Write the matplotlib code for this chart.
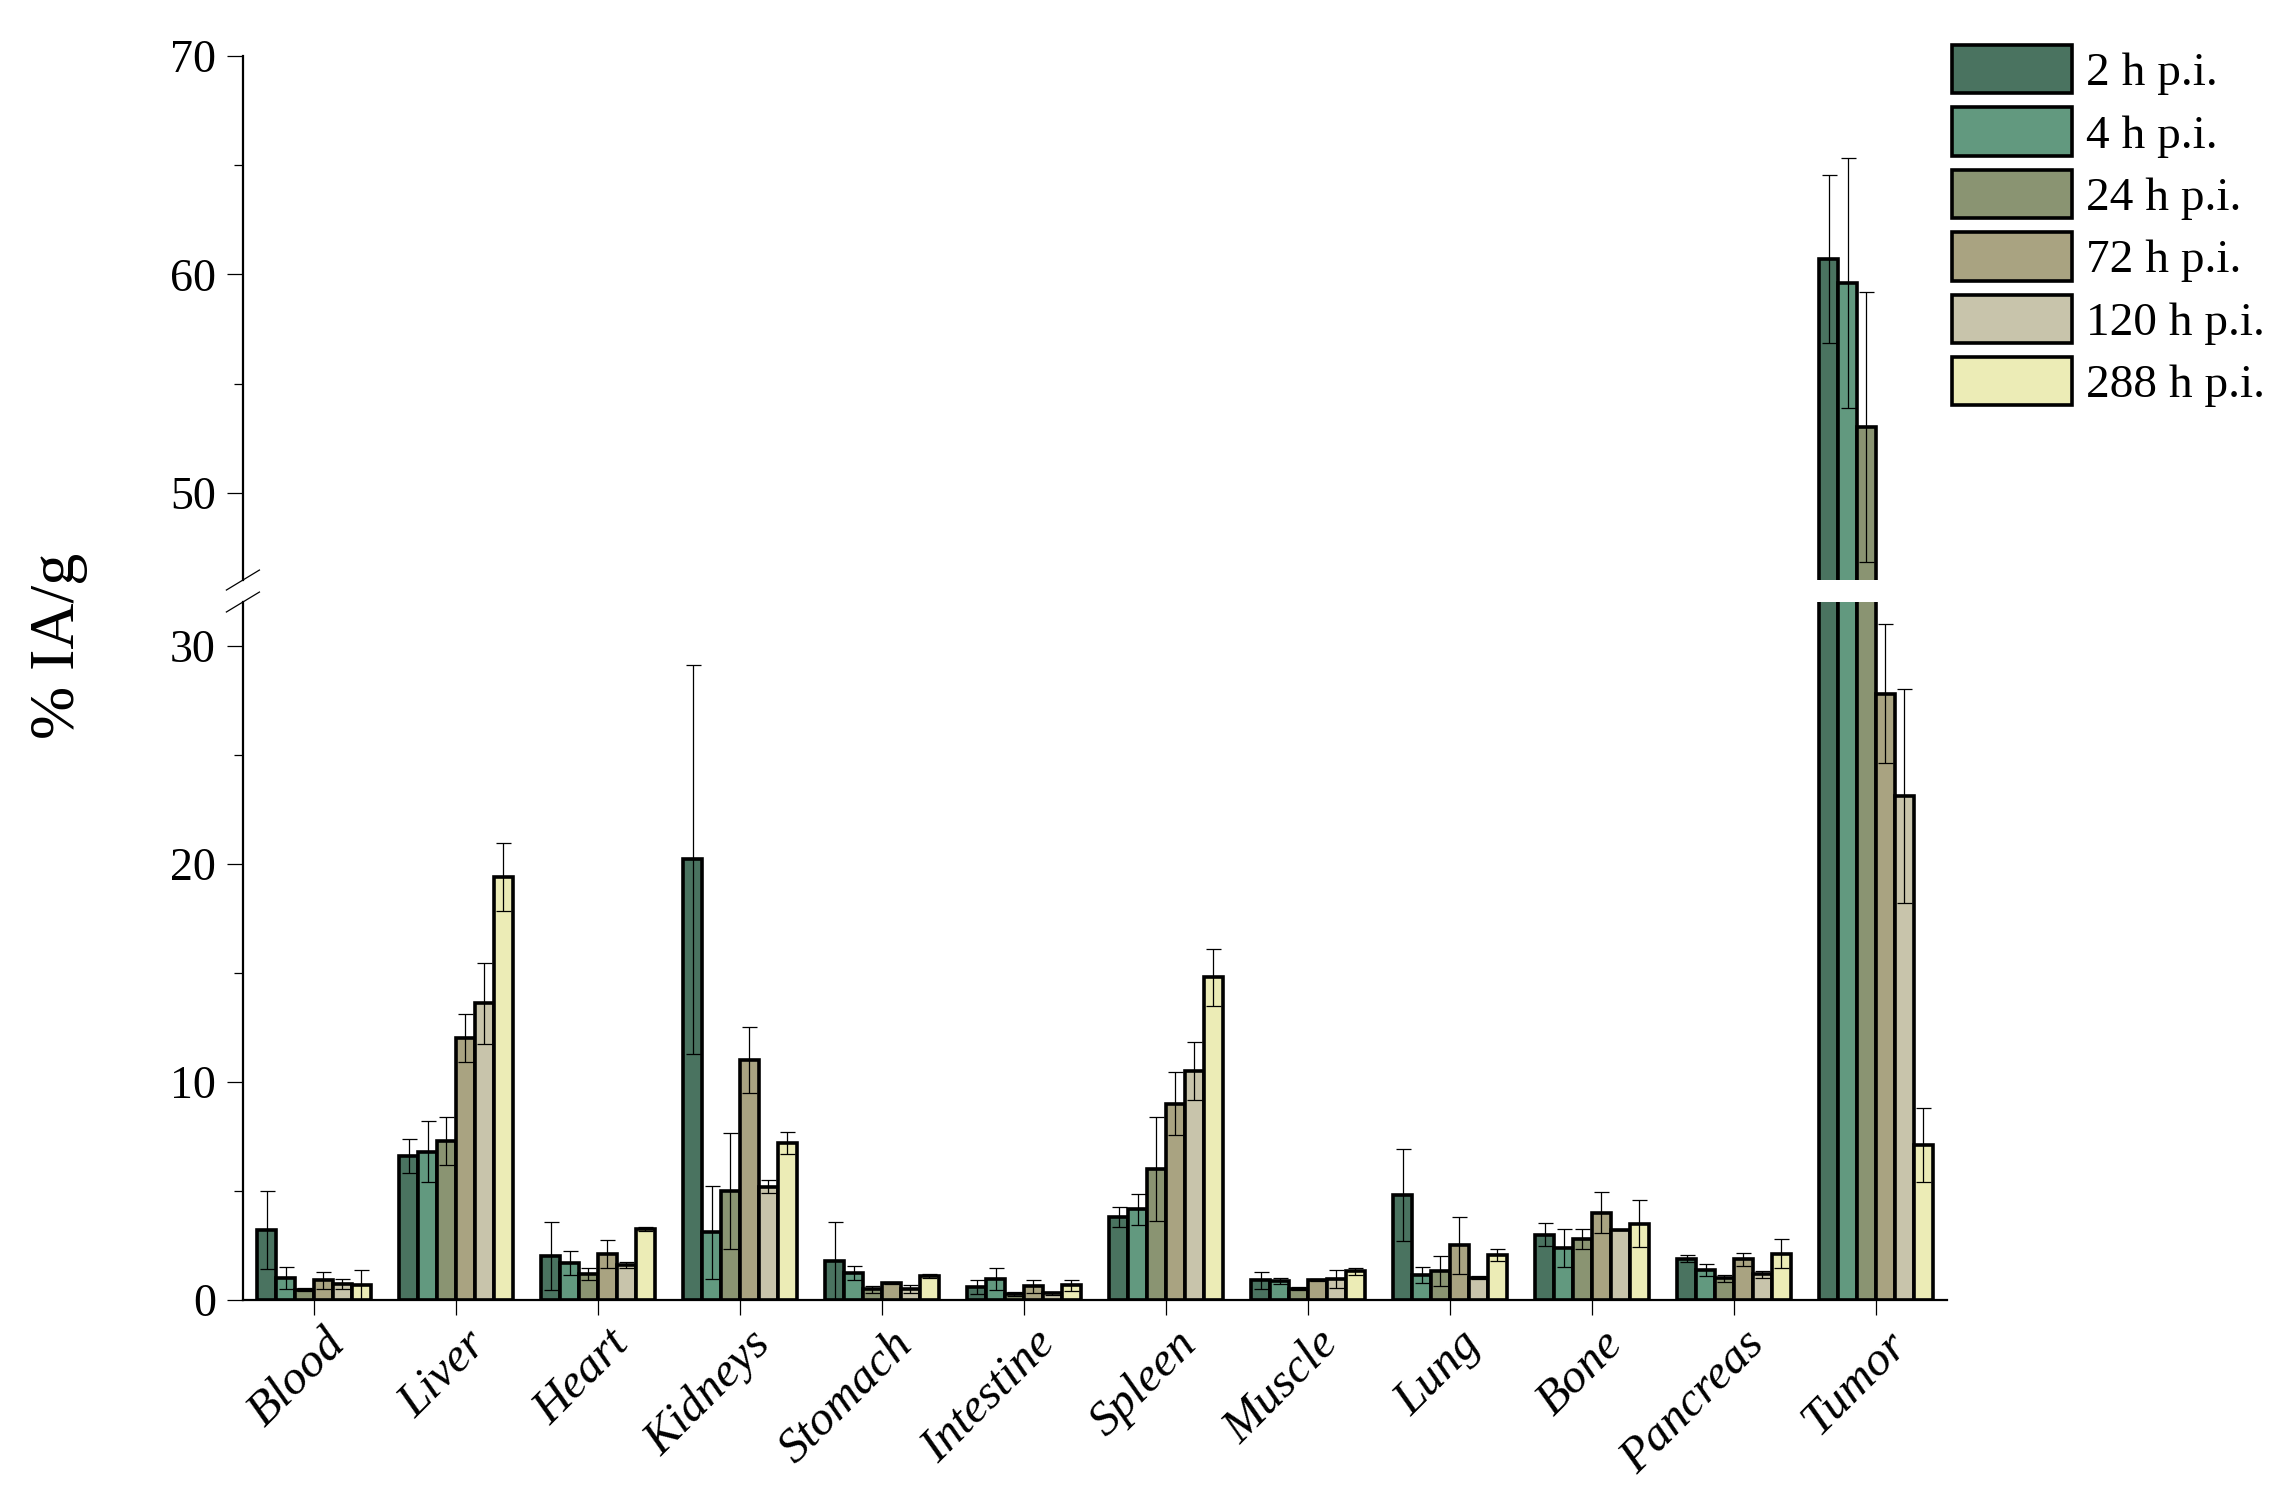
import numpy as np
import matplotlib.pyplot as plt
from matplotlib.transforms import ScaledTranslation

organs = ["Blood", "Liver", "Heart", "Kidneys", "Stomach", "Intestine",
          "Spleen", "Muscle", "Lung", "Bone", "Pancreas", "Tumor"]
times = ["2 h p.i.", "4 h p.i.", "24 h p.i.", "72 h p.i.", "120 h p.i.", "288 h p.i."]
colors = ["#4a7360", "#62997f", "#8a9472", "#a9a381", "#c8c4ab", "#ececb6"]

# %IA/g per organ, one list per time point
h2 = [3.2, 6.6, 2.0, 20.2, 1.8, 0.6, 3.8, 0.9, 4.8, 3.0, 1.9, 60.7]
h4 = [1.0, 6.8, 1.7, 3.1, 1.25, 0.95, 4.15, 0.87, 1.14, 2.4, 1.36, 59.6]
h24 = [0.47, 7.3, 1.2, 5.0, 0.48, 0.27, 6.0, 0.52, 1.34, 2.8, 1.0, 53.0]
h72 = [0.9, 12.0, 2.1, 11.0, 0.79, 0.63, 9.0, 0.91, 2.5, 4.0, 1.86, 27.8]
h120 = [0.74, 13.6, 1.6, 5.2, 0.5, 0.3, 10.5, 0.96, 1.03, 3.2, 1.18, 23.1]
h288 = [0.69, 19.4, 3.26, 7.2, 1.1, 0.68, 14.8, 1.32, 2.07, 3.5, 2.13, 7.1]

e2 = [1.8, 0.77, 1.56, 8.9, 1.78, 0.32, 0.46, 0.39, 2.1, 0.54, 0.17, 3.86]
e4 = [0.49, 1.4, 0.55, 2.13, 0.33, 0.5, 0.73, 0.16, 0.35, 0.87, 0.27, 5.73]
e24 = [0.07, 1.09, 0.28, 2.67, 0.16, 0.11, 2.38, 0.06, 0.68, 0.47, 0.16, 6.18]
e72 = [0.39, 1.09, 0.65, 1.5, 0.05, 0.3, 1.45, 0.06, 1.32, 0.95, 0.3, 3.2]
e120 = [0.24, 1.86, 0.14, 0.3, 0.17, 0.05, 1.32, 0.43, 0.05, 0.0, 0.16, 4.9]
e288 = [0.7, 1.55, 0.08, 0.5, 0.1, 0.25, 1.31, 0.16, 0.28, 1.07, 0.68, 1.68]

values = [h2, h4, h24, h72, h120, h288]
errors = [e2, e4, e24, e72, e120, e288]

plt.rcParams['font.family'] = ['Liberation Serif', 'DejaVu Serif']

fig = plt.figure(figsize=(22.83, 14.85), dpi=100)
ax_lo = fig.add_axes([0.1064, 0.1246, 0.7464, 0.470])
ax_hi = fig.add_axes([0.1064, 0.6094, 0.7464, 0.3529])

x = np.arange(len(organs))
width = 0.8 / len(times)

for ax in (ax_lo, ax_hi):
    for i in range(len(times)):
        pos = x + (i - 2.5) * width
        ax.bar(pos, values[i], width, color=colors[i], edgecolor="black",
               linewidth=2.6, label=times[i], zorder=2)
        ax.errorbar(pos, values[i], yerr=errors[i], fmt="none", ecolor="black",
                    elinewidth=0.9, capsize=5.4, capthick=0.9, zorder=3)
    ax.set_xlim(-0.5, 11.5)
    ax.spines["top"].set_visible(False)
    ax.spines["right"].set_visible(False)
    ax.spines["left"].set_linewidth(1.6)
    ax.spines["bottom"].set_linewidth(1.6)
    ax.tick_params(axis="y", which="major", length=11.5, width=0.9, labelsize=33, pad=8)
    ax.tick_params(axis="y", which="minor", length=6.5, width=0.9)

ax_lo.set_ylim(0, 32)
ax_lo.set_yticks([0, 10, 20, 30])
ax_lo.set_yticks([5, 15, 25], minor=True)
ax_lo.set_xticks(x)
ax_lo.set_xticklabels(organs, rotation=45, ha="right", va="center",
                      rotation_mode="anchor", fontsize=35, style="italic")
ax_lo.tick_params(axis="x", length=11, width=0.9, pad=16)
shift = ScaledTranslation(0.24, 0, fig.dpi_scale_trans)
for lab in ax_lo.get_xticklabels():
    lab.set_transform(lab.get_transform() + shift)

ax_hi.set_ylim(46, 70)
ax_hi.set_yticks([50, 60, 70])
ax_hi.set_yticks([55, 65], minor=True)
ax_hi.spines["bottom"].set_visible(False)
ax_hi.set_xticks([])

# break marks on the left spine
dx = 0.0097
ax_hi.plot([-dx, dx], [-0.0191, 0.0191], transform=ax_hi.transAxes,
           color="black", linewidth=0.9, clip_on=False)
ax_lo.plot([-dx, dx], [1 - 0.0143, 1 + 0.0143], transform=ax_lo.transAxes,
           color="black", linewidth=0.9, clip_on=False)

fig.text(0.026, 1 - 646 / 1485, "% IA/g", rotation=90, ha="center", va="center",
         fontsize=46)

handles, labels = ax_hi.get_legend_handles_labels()
ax_hi.legend(handles, labels, loc="upper left", bbox_to_anchor=(1952 / 2283, 1 - 45 / 1485),
             bbox_transform=fig.transFigure, frameon=False, fontsize=34,
             handlelength=2.55, handleheight=1.2, labelspacing=0.26,
             handletextpad=0.28, borderpad=0, borderaxespad=0)

fig.savefig("out.png", dpi=100)
